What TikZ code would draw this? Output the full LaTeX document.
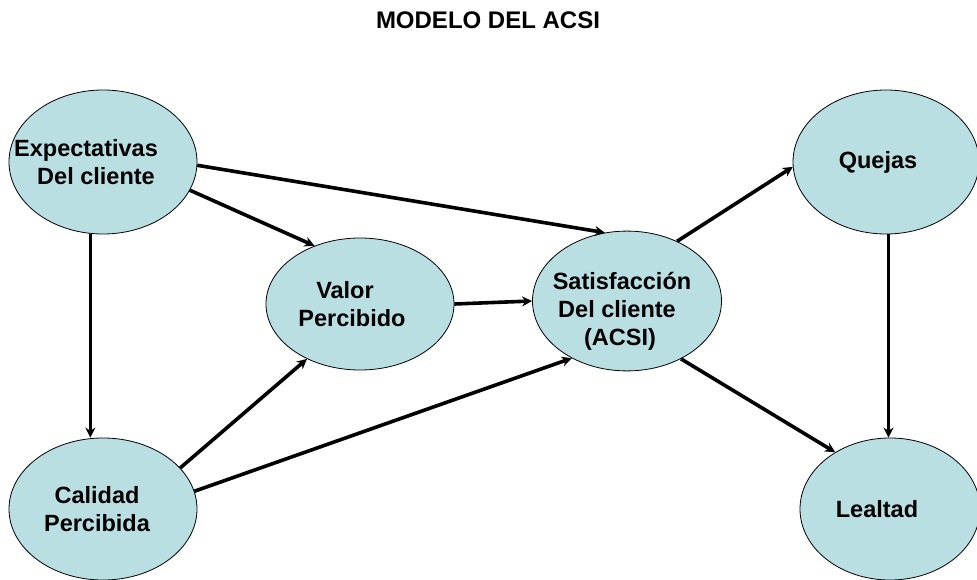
\documentclass[tikz,border=0pt]{standalone}
\usepackage{fontspec}
\setmainfont{Liberation Sans}
\usetikzlibrary{shapes.geometric,arrows.meta}
\definecolor{celeste}{RGB}{185,223,227}
\newcommand{\izq}[2]{\makebox[0pt]{#2\hspace*{#1}}}

\begin{document}
\begin{tikzpicture}[x=1pt, y=-1pt, line width=3.6pt, >={Stealth[length=10pt,width=10pt]},
  main/.style = {draw, ellipse, fill=celeste, line width=0.8pt, inner sep=0pt, align=center, font=\fontsize{23.5}{28}\selectfont\bfseries}]
\useasboundingbox (0,0) rectangle (977,580);
\node[font=\fontsize{24}{28}\selectfont\bfseries] (0) at (488,20) {MODELO DEL ACSI};

\node[main, minimum width=188pt, minimum height=144pt] (1) at (103,162) {\izq{34pt}{Expectativas}\\\izq{14pt}{Del cliente}};
\node[main, minimum width=188pt, minimum height=142pt] (2) at (103,509) {\izq{12pt}{Calidad}\\\izq{12pt}{Percibida}};
\draw[->] (1.-100) -- (1.-100 |- 2.north);

\node[main, minimum width=188pt, minimum height=132pt] (3) at (360,304) {\izq{30pt}{Valor}\\\izq{16pt}{Percibido}};
\node[main, minimum width=189pt, minimum height=136pt] (4) at (627,301) {\rule{0pt}{38pt}\izq{10pt}{Satisfacción}\\\izq{20pt}{Del cliente}\\\izq{14pt}{(ACSI)}};

\draw[->] (1.-2) -- (4.108);
\draw[->] (1.-18) -- (3.128);
\draw[->] (2.28) -- (3.-134);
\draw[->] (2.11) -- (4.-134);
\draw[->] (3.east) -- (4.west);

\node[main, minimum width=186pt, minimum height=144pt] (5) at (886,162) {\izq{16pt}{Quejas}};
\node[main, minimum width=180pt, minimum height=142pt] (6) at (890,509) {\izq{26pt}{Lealtad}};
\draw[->] (4.50) -- (5.-177);
\draw[->] (4.-47) -- (6.134);
\draw[->] (5.-88) -- (5.-88 |- 6.north);

\end{tikzpicture}
\end{document}
